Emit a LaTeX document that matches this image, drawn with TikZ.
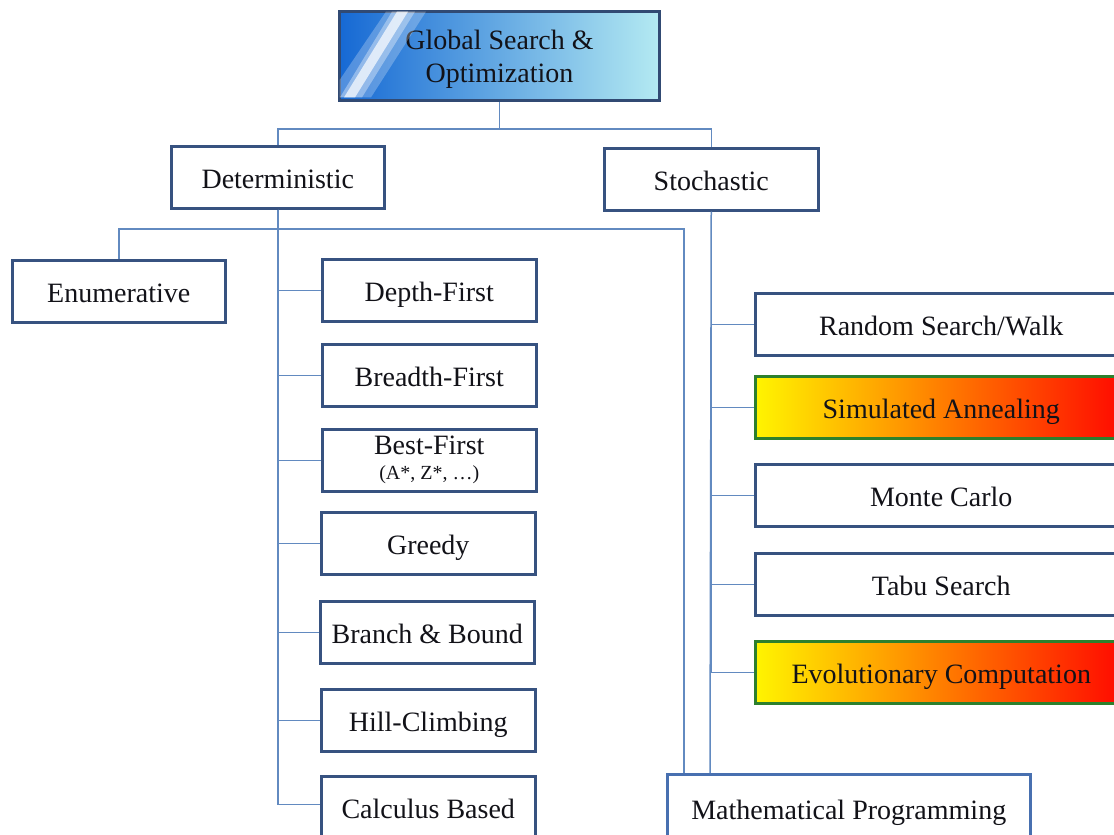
\documentclass[tikz,border=0pt]{standalone}
\usepackage{fontspec}
\setmainfont{Liberation Serif}
\usetikzlibrary{calc}
\definecolor{boxline}{RGB}{55,82,128}
\definecolor{mathline}{RGB}{72,112,176}
\definecolor{connc}{RGB}{98,138,192}
\definecolor{evoline}{RGB}{45,128,45}
\definecolor{topL}{RGB}{22,105,212}
\definecolor{topM}{RGB}{72,168,232}
\definecolor{topR}{RGB}{180,234,242}
\definecolor{txt}{RGB}{18,18,24}
\tikzset{
  box/.style={draw=boxline, line width=2.5pt, fill=white, rectangle, inner sep=0pt,
    anchor=north west, text=txt, font=\fontsize{28}{33}\selectfont, align=center},
  one/.style={text height=25pt, text depth=3pt},
  sz/.style n args={2}{minimum width=#1pt, minimum height=#2pt},
  hot/.style={box, draw=evoline, left color=yellow!92!orange, middle color=orange!88!yellow, right color=red!95!orange},
  conn/.style={draw=connc, line width=1.5pt}
}
\begin{document}
\begin{tikzpicture}[x=1pt,y=-1pt]
\clip (0,0) rectangle (1114,835);
\fill[white] (0,0) rectangle (1114,835);

% top
\node[box, draw=boxline!90!black, line width=3pt, sz={320}{89}, left color=topL, middle color=topM, right color=topR] (top) at (338,10) {\rule{0pt}{26pt}Global Search \&\\[0pt]Optimization};
\fill[white, opacity=0.25] ($(top.north west)+(48,1.6)$) -- ($(top.north west)+(88,1.6)$) -- ($(top.north west)+(33,87.4)$) -- ($(top.north west)+(1.6,87.4)$) -- ($(top.north west)+(1.6,70)$) -- cycle;
\fill[white, opacity=0.35] ($(top.north west)+(54,1.6)$) -- ($(top.north west)+(77,1.6)$) -- ($(top.north west)+(24,87.4)$) -- ($(top.north west)+(2,87.4)$) -- cycle;
\fill[white, opacity=0.7] ($(top.north west)+(59,1.6)$) -- ($(top.north west)+(70,1.6)$) -- ($(top.north west)+(17,87.4)$) -- ($(top.north west)+(6,87.4)$) -- cycle;

% level 1
\node[box, one, sz={213}{62}] (det) at (170,145) {Deterministic};
\node[box, one, sz={214}{62}] (sto) at (603,147) {Stochastic};

% deterministic children
\node[box, one, sz={213}{62}] (enum) at (11,259) {Enumerative};
\node[box, one, sz={214}{62}] (depth) at (321,258) {Depth-First};
\node[box, one, sz={214}{62}] (breadth) at (321,343) {Breadth-First};
\node[box, sz={214}{62}] (best) at (321,428) {Best-First\\[-8pt]{\fontsize{20}{22}\selectfont (A*, Z*, …)}};
\node[box, one, sz={214}{62}] (greedy) at (320,511) {Greedy};
\node[box, one, sz={214}{62}] (bb) at (319,600) {Branch \& Bound};
\node[box, one, sz={214}{62}] (hill) at (320,688) {Hill-Climbing};
\node[box, one, sz={214}{62}] (calc) at (320,775) {Calculus Based};

% stochastic children
\node[box, one, sz={372}{62}] (rand) at (754,292) {Random Search/Walk};
\node[hot, one, sz={372}{62}] (sa) at (754,375) {Simulated Annealing};
\node[box, one, sz={372}{62}] (mc) at (754,463) {Monte Carlo};
\node[box, one, sz={372}{62}] (tabu) at (754,552) {Tabu Search};
\node[hot, one, sz={372}{62}] (evo) at (754,640) {Evolutionary Computation};
\node[box, one, draw=mathline, sz={363}{68}] (math) at (666,773) {Mathematical Programming};

% connectors
\draw[conn] (top.south) -- ++(0,27) -| (det.north);
\draw[conn] (top.south) -- ++(0,27) -| (sto.north);
\foreach \n in {depth,breadth,best,greedy,bb,hill} \draw[conn] (det.south) |- (\n.west);
\draw[conn] (det.south) |- ($(calc.west)+(0,-3)$);
\draw[conn] (enum.north) -- ++(0,-30) -| ($(math.north west)+(18,0)$);
\draw[conn] (sto.south) -- ($(math.north west)+(44,0)$);
\foreach \n in {rand,sa,mc,tabu,evo} \draw[conn] (sto.south) |- (\n.west);
\end{tikzpicture}
\end{document}
